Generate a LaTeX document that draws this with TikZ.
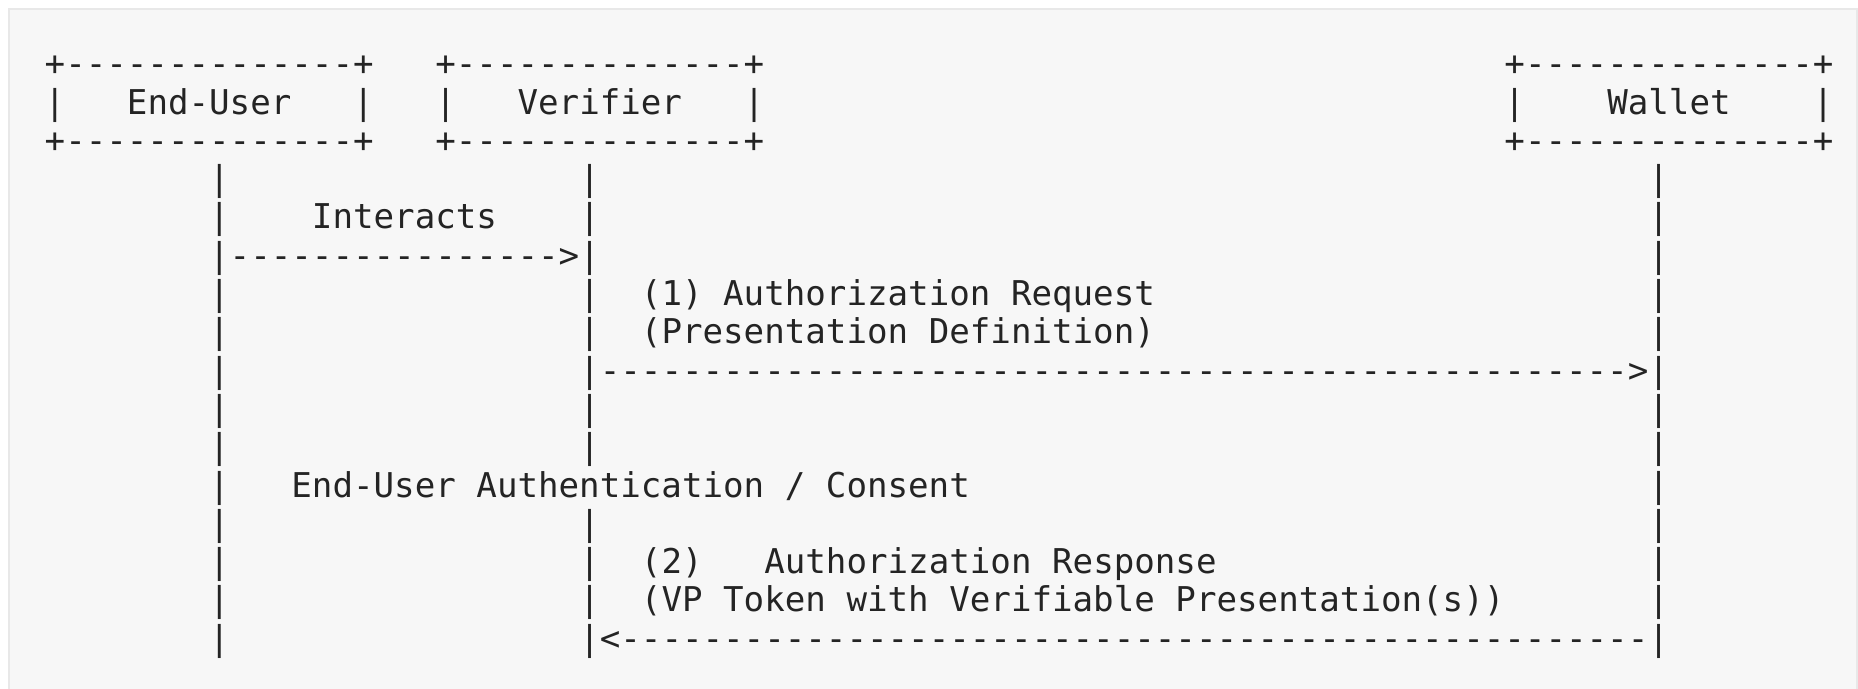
\documentclass[tikz,border=0pt]{standalone}
\usepackage{fontspec}
\setmonofont{DejaVu Sans Mono}
\definecolor{ink}{RGB}{36,36,36}
\definecolor{panel}{RGB}{247,247,247}
\definecolor{panelline}{RGB}{232,232,232}
\tikzset{
  txt/.style={inner sep=0pt,outer sep=0pt,anchor=base west,text=ink,
    font=\ttfamily\fontsize{13.66pt}{16pt}\selectfont}
}
% #1 name, #2 column, #3 row, #4 text
\newcommand\seg[4]{\node[txt] (#1) at ({44.7+#2*20.56},{75.7+(#3-1)*38.3}) {#4};}
\newcommand\tendash{----------}
\begin{document}
\begin{tikzpicture}[x=0.4pt,y=-0.4pt]
\useasboundingbox (0,0) rectangle (1858,688);
\fill[white] (0,0) rectangle (1858,688);
\filldraw[fill=panel,draw=panelline,line width=0.8pt] (9,8.5) rectangle (1857,700);

% boxes
\seg{euTop}{0}{1}{+--------------+}
\seg{vfTop}{19}{1}{+--------------+}
\seg{wlTop}{71}{1}{+--------------+}
\seg{euL}{0}{2}{|}\seg{eu}{4}{2}{End-User}\seg{euR}{15}{2}{|}
\seg{vfL}{19}{2}{|}\seg{vf}{23}{2}{Verifier}\seg{vfR}{34}{2}{|}
\seg{wlL}{71}{2}{|}\seg{wl}{76}{2}{Wallet}\seg{wlR}{86}{2}{|}
\seg{euBot}{0}{3}{+--------------+}
\seg{vfBot}{19}{3}{+--------------+}
\seg{wlBot}{71}{3}{+--------------+}

% lifelines
\foreach \r in {4,...,16} {\seg{eL\r}{8}{\r}{|}}
\foreach \r in {4,5,6,7,8,9,10,11,13,14,15,16} {\seg{vL\r}{26}{\r}{|}}
\foreach \r in {4,...,16} {\seg{wL\r}{78}{\r}{|}}

% messages
\seg{interacts}{13}{5}{Interacts}
\seg{arrA}{9}{6}{---------------->}
\seg{req1}{29}{7}{(1) Authorization Request}
\seg{req2}{29}{8}{(Presentation Definition)}
\seg{arrB}{27}{9}{\tendash\tendash\tendash\tendash\tendash>}
\seg{auth}{12}{12}{End-User Authentication / Consent}
\seg{resNum}{29}{14}{(2)}
\seg{res1}{35}{14}{Authorization Response}
\seg{res2}{29}{15}{(VP Token with Verifiable Presentation(s))}
\seg{arrC}{27}{16}{<\tendash\tendash\tendash\tendash\tendash}
\end{tikzpicture}
\end{document}
